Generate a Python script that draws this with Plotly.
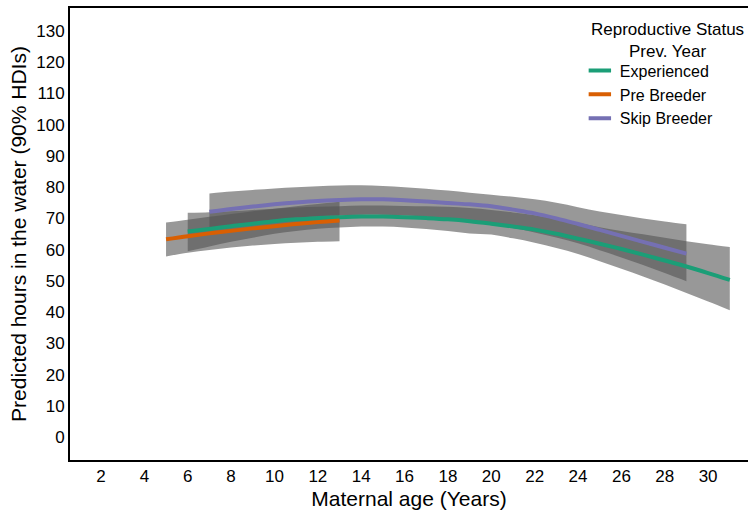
import plotly.graph_objects as go

# ---- data ----
exp_age = list(range(6, 32))
exp_mid = [65.8, 66.6, 67.5, 68.3, 69.1, 69.7, 70.1, 70.4, 70.6, 70.6, 70.4, 70.1, 69.7,
           69.1, 68.3, 67.4, 66.4, 65.1, 63.5, 61.9, 60.2, 58.4, 56.5, 54.6, 52.5, 50.3]
exp_lo = [59.5, 61.0, 62.5, 63.8, 65.1, 66.0, 66.7, 67.1, 67.4, 67.4, 67.1, 66.6, 66.0,
          65.2, 64.8, 63.6, 62.2, 60.5, 58.6, 56.3, 53.9, 51.4, 48.8, 46.1, 43.4, 40.6]
exp_hi = [71.8, 72.0, 72.3, 72.7, 73.1, 73.5, 73.7, 73.9, 74.1, 74.1, 74.0, 73.9, 73.7,
          73.3, 72.7, 71.9, 71.0, 69.9, 68.6, 67.2, 66.0, 64.9, 63.8, 62.7, 61.7, 60.8]

pre_age = list(range(5, 14))
pre_mid = [63.3, 64.3, 65.2, 66.0, 66.8, 67.5, 68.2, 68.8, 69.3]
pre_lo = [57.8, 59.0, 59.9, 60.7, 61.3, 61.8, 62.2, 62.5, 62.7]
pre_hi = [68.7, 69.6, 70.5, 71.4, 72.3, 73.1, 73.9, 74.6, 75.3]

skip_age = list(range(7, 30))
skip_mid = [72.1, 73.0, 73.8, 74.5, 75.1, 75.6, 75.9, 76.1, 76.1, 75.8, 75.4, 74.9,
            74.5, 73.9, 72.8, 71.6, 70.0, 68.2, 66.3, 64.4, 62.5, 60.6, 58.7]
skip_lo = [66.3, 67.6, 68.6, 69.5, 70.2, 70.7, 71.0, 71.2, 71.2, 71.0, 70.5, 69.9,
           69.1, 68.1, 66.9, 65.5, 63.9, 62.0, 59.8, 57.5, 55.1, 52.5, 49.9]
skip_hi = [78.0, 78.6, 79.1, 79.6, 80.0, 80.3, 80.5, 80.6, 80.4, 80.0, 79.5, 78.9,
           78.2, 77.6, 76.9, 76.1, 75.0, 73.6, 72.2, 71.1, 70.0, 69.0, 68.1]

series = [
    ("Experienced", exp_age, exp_mid, exp_lo, exp_hi, "#1b9e77"),
    ("Pre Breeder", pre_age, pre_mid, pre_lo, pre_hi, "#d95f02"),
    ("Skip Breeder", skip_age, skip_mid, skip_lo, skip_hi, "#7570b3"),
]

legend_title = "Reproductive Status<br>Prev. Year"
x_ticks = list(range(2, 31, 2))
y_ticks = list(range(0, 131, 10))

FONT = "Liberation Sans, Arial, Helvetica, sans-serif"
BAND = "rgba(84,84,84,0.6)"

fig = go.Figure()

# ribbons (lower edge, then upper edge filled to it)
for name, a, m, lo, hi, c in series:
    fig.add_trace(go.Scatter(x=a, y=lo, mode="lines", line=dict(width=0, shape="spline"),
                             hoverinfo="skip", showlegend=False))
    fig.add_trace(go.Scatter(x=a, y=hi, mode="lines", line=dict(width=0, shape="spline"),
                             fill="tonexty", fillcolor=BAND,
                             hoverinfo="skip", showlegend=False))

# lines
for name, a, m, lo, hi, c in series:
    fig.add_trace(go.Scatter(x=a, y=m, mode="lines",
                             line=dict(color=c, width=4, shape="spline"),
                             name=name, showlegend=False))

# legend entries (short line glyphs)
for name, a, m, lo, hi, c in series:
    fig.add_trace(go.Scatter(x=[None], y=[None], mode="markers", name=name,
                             marker=dict(symbol="line-ew", size=16, color=c,
                                         line=dict(width=4, color=c))))

fig.add_annotation(text=legend_title, xref="paper", yref="paper", x=0.882, y=0.929,
                   xanchor="center", yanchor="middle", align="center", showarrow=False,
                   font=dict(size=17, family=FONT, color="black"))

fig.update_layout(
    width=749, height=515,
    margin=dict(l=70, r=1, t=8, b=55),
    plot_bgcolor="white", paper_bgcolor="white",
    font=dict(family=FONT, color="black", size=17),
    showlegend=True,
    legend=dict(
        font=dict(size=16), x=0.752, y=0.899, xanchor="left", yanchor="top",
        traceorder="normal",
        bgcolor="rgba(0,0,0,0)", itemwidth=30, tracegroupgap=0),
    xaxis=dict(range=[0.57, 31.84], tickvals=x_ticks, showgrid=False, zeroline=False,
               showline=True, linecolor="black", linewidth=2, mirror=True,
               ticks="", tickfont=dict(size=17),
               title=dict(text="Maternal age (Years)", font=dict(size=21), standoff=6)),
    yaxis=dict(range=[-7.36, 137.36], tickvals=y_ticks, showgrid=False, zeroline=False,
               showline=True, linecolor="black", linewidth=2,
               ticks="", tickfont=dict(size=17),
               title=dict(text="Predicted hours in the water (90% HDIs)", font=dict(size=21),
                          standoff=4)),
)

fig.write_html("out.html")
